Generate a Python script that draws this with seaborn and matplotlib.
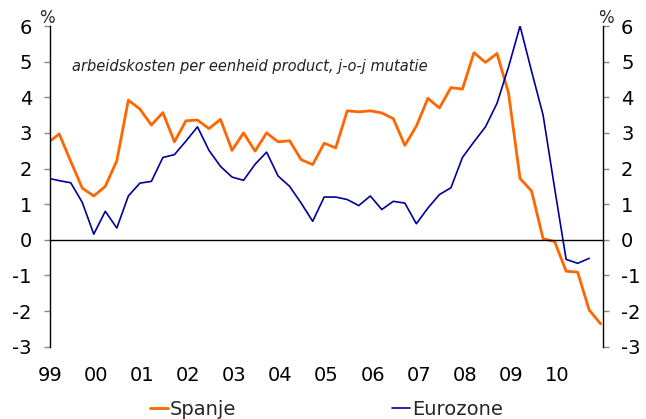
import numpy as np
import pandas as pd
import matplotlib
matplotlib.use("Agg")
import matplotlib.pyplot as plt
import seaborn as sns

# Quarterly data, 1998Q4 .. 2010Q4 (year-on-year change, %)
quarters = [f"{y}Q{q}" for y in range(1998, 2011) for q in range(1, 5)][3:]
spanje = [2.72, 2.97, 2.20, 1.45, 1.23, 1.50, 2.22, 3.92, 3.67, 3.22,
          3.57, 2.75, 3.34, 3.36, 3.12, 3.38, 2.51, 3.00, 2.49, 3.00,
          2.75, 2.78, 2.25, 2.11, 2.71, 2.58, 3.62, 3.59, 3.62, 3.56,
          3.40, 2.65, 3.19, 3.97, 3.70, 4.27, 4.23, 5.25, 4.98, 5.23,
          4.12, 1.72, 1.37, 0.03, -0.05, -0.88, -0.91, -1.97, -2.36]
eurozone = [1.73, 1.66, 1.60, 1.05, 0.16, 0.80, 0.33, 1.23, 1.59, 1.64,
            2.31, 2.39, 2.77, 3.17, 2.51, 2.06, 1.76, 1.67, 2.12, 2.46,
            1.79, 1.50, 1.03, 0.52, 1.20, 1.20, 1.13, 0.96, 1.23, 0.85,
            1.08, 1.03, 0.45, 0.89, 1.27, 1.46, 2.31, 2.75, 3.17, 3.83,
            4.85, 6.00, 4.73, 3.50, 1.45, -0.55, -0.66, -0.52]
year_ticks = list(range(1999, 2011))
year_labels = ["99", "00", "01", "02", "03", "04", "05", "06", "07", "08", "09", "10"]
y_ticks = list(range(-3, 7))
y_labels = [str(v) for v in y_ticks]
title_text = "arbeidskosten per eenheid product, j-o-j mutatie"

def qpos(q):
    y, n = int(q[:4]), int(q[-1])
    return y + n * 0.25 - 0.05  # plotted near quarter end

rows = []
for q, v in zip(quarters, spanje):
    rows.append({"t": qpos(q), "v": v, "serie": "Spanje"})
for q, v in zip(quarters[:len(eurozone)], eurozone):
    rows.append({"t": qpos(q), "v": v, "serie": "Eurozone"})
df = pd.DataFrame(rows)

sns.set_style("white")
plt.rcParams["font.family"] = ["DejaVu Sans"]

fig = plt.figure(figsize=(6.46, 4.19), dpi=100)
ax = fig.add_axes([50 / 646, 72.3 / 419, 553 / 646, 320.7 / 419])

palette = {"Spanje": "#FF6600", "Eurozone": "#000099"}
sns.lineplot(data=df, x="t", y="v", hue="serie", palette=palette, ax=ax,
             sort=False, estimator=None, legend=False)
lines = ax.get_lines()
lines[0].set_linewidth(2.0)
lines[1].set_linewidth(1.2)

ax.set_xlim(1999, 2011)
ax.set_ylim(-3, 6)
ax.set_xlabel("")
ax.set_ylabel("")

for s in ["top", "right"]:
    ax.spines[s].set_visible(False)
ax.spines["bottom"].set_position(("data", 0))
ax.spines["bottom"].set_color("black")
ax.spines["bottom"].set_linewidth(1.0)
ax.spines["left"].set_color("black")
ax.spines["left"].set_linewidth(1.0)

ax.set_xticks(year_ticks)
ax.set_xticklabels(year_labels)
ax.tick_params(axis="x", direction="out", length=5, width=1, color="#888888",
               pad=86, labelsize=14, labelcolor="black")
ax.set_yticks(y_ticks)
ax.set_yticklabels(y_labels)
ax.tick_params(axis="y", direction="out", length=4, width=1, color="#888888",
               pad=9, labelsize=14, labelcolor="black")

ax2 = ax.twinx()
ax2.set_ylim(-3, 6)
ax2.set_yticks(y_ticks)
ax2.set_yticklabels(y_labels)
for s in ["top", "left", "bottom"]:
    ax2.spines[s].set_visible(False)
ax2.spines["right"].set_color("black")
ax2.spines["right"].set_linewidth(1.0)
ax2.tick_params(axis="y", direction="out", length=4, width=1, color="#888888",
                pad=9, labelsize=14, labelcolor="black")

fig.text(46.5 / 646, 1 - 18 / 419, "%", ha="center", va="center", fontsize=12)
fig.text(605.5 / 646, 1 - 18 / 419, "%", ha="center", va="center", fontsize=12)
fig.text(72 / 646, 1 - 66 / 419, title_text, ha="left", va="center",
         fontsize=10.5, style="italic", color="#222222")

handles = [plt.Line2D([], [], color="#FF6600", lw=2.0),
           plt.Line2D([], [], color="#000099", lw=1.2)]
fig.legend(handles, ["Spanje", "Eurozone"], loc="center",
           bbox_to_anchor=(326.5 / 646, 1 - 409 / 419), ncol=2, frameon=False,
           fontsize=14, handlelength=0.95, handletextpad=0.1,
           columnspacing=8.0, borderpad=0, borderaxespad=0)

fig.savefig("out.png", dpi=100)
